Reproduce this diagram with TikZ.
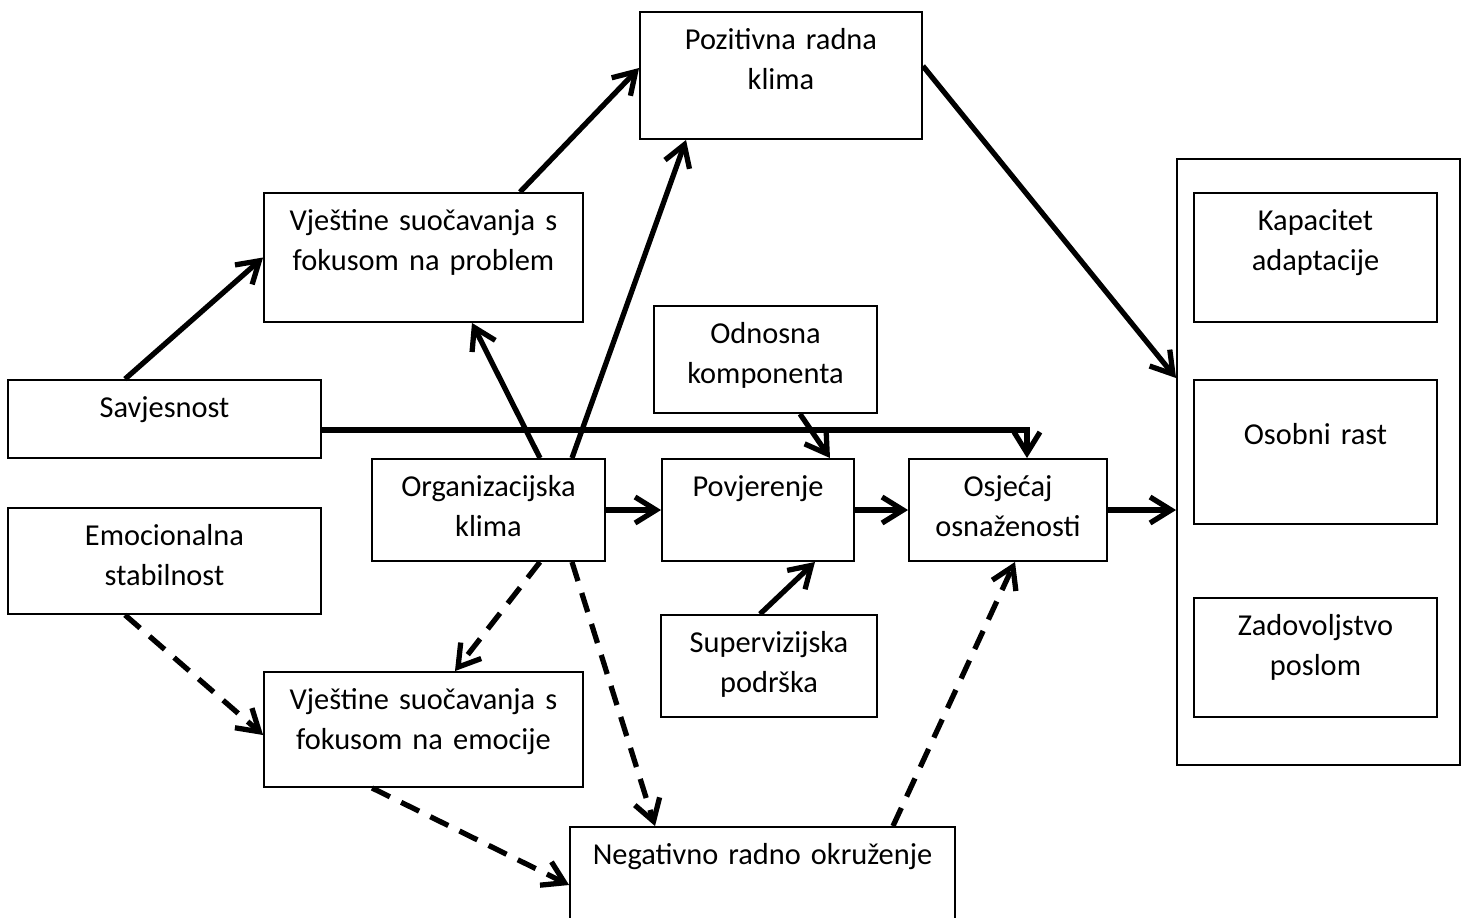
\documentclass[tikz,border=0pt]{standalone}
\usepackage{fontspec}
\setmainfont{Carlito}
\usetikzlibrary{arrows.meta,positioning}
\tikzset{
x=0.02cm, y=-0.02cm,
font=\fontsize{17.3}{23.3}\selectfont,
blok/.style 2 args={draw, line width=1.1pt, inner sep=0pt, align=center,
  text width=#1cm, text height=0.74cm, text depth=#2cm},
okvir/.style={draw, line width=1.1pt, inner sep=0pt, minimum width=5.66cm, minimum height=12.12cm},
strela/.style={-{Straight Barb[length=0.42cm,width=0.52cm]}, line width=3pt},
isprek/.style={strela, dash pattern=on 0.4cm off 0.25cm},
}

\begin{document}
\begin{tikzpicture}
    \useasboundingbox (0,0) rectangle (1468,917);
    \clip (0,0) rectangle (1468,917);
    \node[blok={5.64}{1.80}] (poz) at (781,75.5) {Pozitivna radna\\klima};
    \node[blok={6.38}{1.84}] (vsp) at (423.5,257.5) {Vještine suočavanja s\\fokusom na problem};
    \node[blok={6.26}{0.82}] (sav) at (164.5,419) {Savjesnost};
    \node[blok={6.26}{1.38}] (emo) at (164.5,561) {Emocionalna\\stabilnost};
    \node[blok={4.66}{1.30}] (org) at (488.5,510) {Organizacijska\\klima};
    \node[blok={4.46}{1.40}] (odn) at (765.5,359.5) {Odnosna\\komponenta};
    \node[blok={3.84}{1.30}] (pov) at (758,510) {Povjerenje};
    \node[blok={3.96}{1.30}] (osj) at (1008,510) {Osjećaj\\osnaženosti};
    \node[blok={4.32}{1.30}] (sup) at (769,666) {Supervizijska\\podrška};
    \node[blok={6.38}{1.56}] (vse) at (423.5,729.5) {Vještine suočavanja s\\fokusom na emocije};
    \node[blok={7.70}{1.46}] (neg) at (762.5,882) {Negativno radno okruženje};
    % ishodi
    \node[okvir] (ish) at (1318.5,462) {};
    \node[blok={4.86}{1.84}] (kap) at (1315.5,257.5) {Kapacitet\\adaptacije};
    \node[blok={4.86}{1.60}, text height=1.28cm] (ras) at (1315.5,452) {Osobni rast};
    \node[blok={4.86}{1.64}] (zad) at (1315.5,657.5) {Zadovoljstvo\\poslom};
    % pune strelice
    \draw[strela] ([xshift=-0.79cm]sav.north) -- (vsp.west);
    \draw[strela] ([xshift=1.93cm]vsp.north) -- ([yshift=0.15cm]poz.west);
    \draw[strela] ([xshift=1.03cm]org.north) -- ([xshift=0.97cm]vsp.south);
    \draw[strela] ([xshift=1.67cm]org.north) -- ([xshift=-1.90cm]poz.south);
    \draw[strela] ([yshift=-0.22cm]sav.east) -| ([xshift=0.38cm]osj.north);
    \draw[strela] ([xshift=0.69cm]odn.south) -- ([xshift=1.44cm]pov.north);
    \draw[strela] (org.east) -- (pov.west);
    \draw[strela] (pov.east) -- (osj.west);
    \draw[strela] (osj.east) -- (osj.east -| ish.west);
    \draw[strela] ([yshift=0.19cm]poz.east) -- ([yshift=1.68cm]ish.west);
    \draw[strela] ([xshift=-0.18cm]sup.north) -- ([xshift=1.14cm]pov.south);
    % isprekidane strelice
    \draw[isprek] ([xshift=-0.79cm]emo.south) -- ([yshift=-0.11cm]vse.west);
    \draw[isprek] ([xshift=1.03cm]org.south) -- ([xshift=0.63cm]vse.north);
    \draw[isprek] ([xshift=1.67cm]org.south) -- ([xshift=-2.15cm]neg.north);
    \draw[isprek] ([xshift=-1.03cm]vse.south) -- ([yshift=-0.06cm]neg.west);
    \draw[isprek] ([xshift=2.61cm]neg.north) -- ([xshift=0.14cm]osj.south);
\end{tikzpicture}
\end{document}
